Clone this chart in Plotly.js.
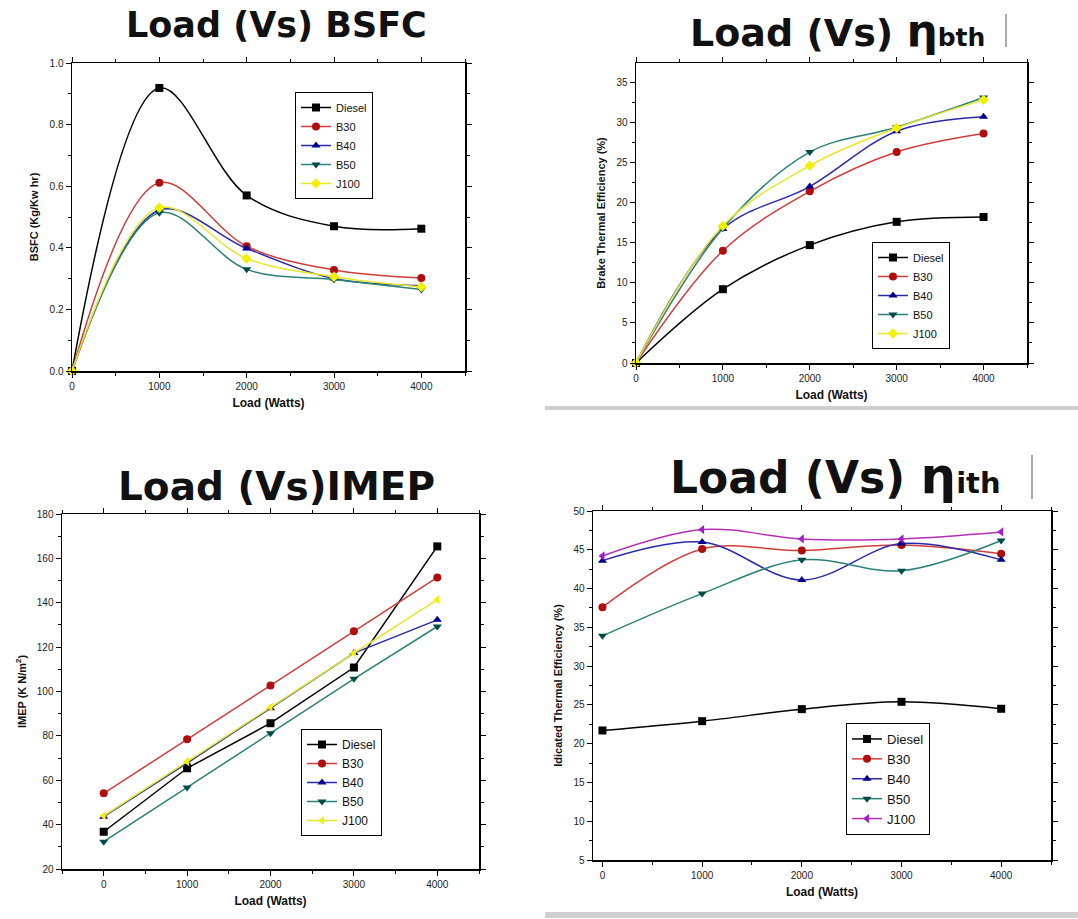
<!DOCTYPE html>
<html>
<head>
<meta charset="utf-8">
<script src="https://cdn.plot.ly/plotly-3.0.1.min.js"></script>
<style>html,body{margin:0;padding:0;background:#fff;}#chart{width:1078px;height:919px;}</style>
</head>
<body>
<div id="chart"></div>
<script>
// ---------- data ----------
const load = [0, 1000, 2000, 3000, 4000];
const seriesNames = ['Diesel', 'B30', 'B40', 'B50', 'J100'];
const xTickLabels = ['0', '1000', '2000', '3000', '4000'];

// Load vs BSFC (Kg/Kw hr)
const bsfcDiesel = [0, 0.919, 0.570, 0.470, 0.462];
const bsfcB30    = [0, 0.611, 0.405, 0.328, 0.302];
const bsfcB40    = [0, 0.522, 0.398, 0.300, 0.277];
const bsfcB50    = [0, 0.514, 0.330, 0.297, 0.265];
const bsfcJ100   = [0, 0.530, 0.365, 0.306, 0.273];

// Load vs Brake Thermal Efficiency (%)
const bteDiesel = [0, 9.2, 14.7, 17.6, 18.2];
const bteB30    = [0, 14.0, 21.4, 26.3, 28.6];
const bteB40    = [0, 16.7, 22.0, 28.9, 30.7];
const bteB50    = [0, 16.8, 26.3, 29.4, 33.1];
const bteJ100   = [0, 17.1, 24.6, 29.3, 32.8];

// Load vs IMEP (K N/m2)
const imepDiesel = [36.8, 65.4, 85.7, 110.8, 165.4];
const imepB30    = [54.1, 78.5, 102.7, 127.1, 151.4];
const imepB40    = [43.6, 67.7, 92.5, 117.3, 132.3];
const imepB50    = [32.3, 56.7, 81.2, 105.7, 129.3];
const imepJ100   = [43.9, 68.4, 92.9, 117.3, 141.4];

// Load vs Indicated Thermal Efficiency (%)
const iteDiesel = [21.7, 22.9, 24.45, 25.4, 24.5];
const iteB30    = [37.6, 45.1, 44.9, 45.6, 44.5];
const iteB40    = [43.6, 46.0, 41.1, 45.8, 43.7];
const iteB50    = [33.9, 39.35, 43.7, 42.3, 46.2];
const iteJ100   = [44.2, 47.6, 46.4, 46.4, 47.3];

// ---------- styles ----------
const W = 1078, H = 919;
const lineCols   = ['#000000', '#d23c3c', '#2a2aa8', '#2b8078', '#e6e62a'];
const markerCols = ['#000000', '#b00e0e', '#00008c', '#004a48', '#f2f200'];
const symbolsA   = ['square', 'circle', 'triangle-up', 'triangle-down', 'diamond'];
const symbolsB   = ['square', 'circle', 'triangle-up', 'triangle-down', 'triangle-left'];

function px2dom(a, b, total, flip) {
  return flip ? [1 - b / total, 1 - a / total] : [a / total, b / total];
}

const traces = [];
function addPanel(ys, idx, shape, symbols, legendName, lineOverride, markerOverride) {
  ys.forEach((y, i) => {
    traces.push({
      x: load, y: y, name: seriesNames[i], type: 'scatter', mode: 'lines+markers',
      xaxis: 'x' + (idx === 1 ? '' : idx), yaxis: 'y' + (idx === 1 ? '' : idx),
      legend: legendName,
      line: {color: (lineOverride && lineOverride[i]) || lineCols[i], width: 1.5, shape: shape, smoothing: 1},
      marker: {symbol: symbols[i], size: 8, color: (markerOverride && markerOverride[i]) || markerCols[i]},
      cliponaxis: false
    });
  });
}
addPanel([bsfcDiesel, bsfcB30, bsfcB40, bsfcB50, bsfcJ100], 1, 'spline', symbolsA, 'legend');
addPanel([bteDiesel, bteB30, bteB40, bteB50, bteJ100], 2, 'spline', symbolsA, 'legend2');
addPanel([imepDiesel, imepB30, imepB40, imepB50, imepJ100], 3, 'linear', symbolsB, 'legend3');
addPanel([iteDiesel, iteB30, iteB40, iteB50, iteJ100], 4, 'spline', symbolsB, 'legend4',
  [null, null, null, null, '#b52fb5'], [null, null, null, null, '#a020c8']);

const tickFont = {family: 'Liberation Sans, Arial, sans-serif', size: 10, color: '#222'};
const axTitleFont = {family: 'Liberation Sans, Arial, sans-serif', size: 11, color: '#111', weight: 'bold'};

function xAxis(dom, range, anchor) {
  return {
    domain: dom, range: range, anchor: anchor, tickmode: 'array', tickvals: load, ticktext: xTickLabels,
    showline: true, linecolor: '#000', linewidth: 1.5, mirror: 'allticks', ticks: 'outside',
    ticklen: 5, tickwidth: 1, tickcolor: '#000', showgrid: false, zeroline: false,
    tickfont: tickFont,
    minor: {ticks: 'outside', ticklen: 3, tickwidth: 1, tickcolor: '#000', dtick: 500, tick0: 0, showgrid: false},
    title: {text: 'Load (Watts)', font: {...axTitleFont, size: 12}, standoff: 8}
  };
}
function yAxis(dom, range, anchor, dtick, minorDtick, title, fmt) {
  return {
    domain: dom, range: range, anchor: anchor, dtick: dtick, tick0: 0, tickformat: fmt || '',
    showline: true, linecolor: '#000', linewidth: 1.5, mirror: 'allticks', ticks: 'outside',
    ticklen: 5, tickwidth: 1, tickcolor: '#000', showgrid: false, zeroline: false,
    tickfont: tickFont,
    minor: {ticks: 'outside', ticklen: 3, tickwidth: 1, tickcolor: '#000', dtick: minorDtick, showgrid: false},
    title: {text: title, font: axTitleFont, standoff: 8}
  };
}

function legendAt(px, py, size) {
  return {
    bgcolor: '#fff', bordercolor: '#000', borderwidth: 1, xanchor: 'left', yanchor: 'top',
    x: px / W, y: 1 - py / H,
    font: {family: 'Liberation Sans, Arial, sans-serif', size: size, color: '#111'},
    tracegroupgap: 0, itemwidth: 30
  };
}

function titleAnn(text, leftX, cy, size) {
  return {text: text, x: leftX / W, y: 1 - cy / H, xref: 'paper', yref: 'paper', xanchor: 'left', yanchor: 'middle',
          showarrow: false, font: {family: 'DejaVu Sans, Verdana, sans-serif', size: size, color: '#111', weight: 'bold'}};
}

const layout = {
  width: W, height: H, margin: {l: 0, r: 0, t: 0, b: 0},
  paper_bgcolor: '#fff', plot_bgcolor: '#fff', showlegend: true,
  xaxis:  xAxis(px2dom(72, 465, W), [0, 4500], 'y'),
  yaxis:  yAxis(px2dom(63, 371, H, true), [0, 1.0], 'x', 0.2, 0.1, 'BSFC (Kg/Kw hr)', '.1f'),
  xaxis2: xAxis(px2dom(636, 1027, W), [0, 4500], 'y2'),
  yaxis2: yAxis(px2dom(63, 363, H, true), [0, 37.4], 'x2', 5, 2.5, 'Brake Thermal Efficiency (%)'),
  xaxis3: xAxis(px2dom(62, 479, W), [-500, 4500], 'y3'),
  yaxis3: yAxis(px2dom(514, 869, H, true), [20, 180], 'x3', 20, 10, 'IMEP (K N/m<sup>2</sup>)'),
  xaxis4: xAxis(px2dom(593, 1051, W), [-95, 4500], 'y4'),
  yaxis4: yAxis(px2dom(511, 860, H, true), [5, 50], 'x4', 5, 2.5, 'Idicated Thermal Efficiency (%)'),
  legend:  legendAt(295, 92, 11),
  legend2: legendAt(872, 242, 11),
  legend3: legendAt(301, 729, 12),
  legend4: legendAt(846, 723, 13),
  annotations: [
    titleAnn('Load (Vs) BSFC', 124, 25, 35),
    titleAnn('Load (Vs) <span style="font-size:44px">η</span><span style="font-size:25px">bth</span>', 688, 30, 38),
    titleAnn('Load (Vs)IMEP', 116, 486, 39),
    titleAnn('Load (Vs) <span style="font-size:50px">η</span><span style="font-size:29px">ith</span>', 668, 476, 44)
  ],
  shapes: [
    {type: 'line', xref: 'paper', yref: 'paper', x0: 545 / W, x1: 1, y0: 1 - 408 / H, y1: 1 - 408 / H, line: {color: '#cfcfcf', width: 4}},
    {type: 'line', xref: 'paper', yref: 'paper', x0: 545 / W, x1: 1, y0: 1 - 915 / H, y1: 1 - 915 / H, line: {color: '#cfcfcf', width: 6}},
    {type: 'line', xref: 'paper', yref: 'paper', x0: 1006 / W, x1: 1006 / W, y0: 1 - 14 / H, y1: 1 - 47 / H, line: {color: '#555', width: 1}},
    {type: 'line', xref: 'paper', yref: 'paper', x0: 1032 / W, x1: 1032 / W, y0: 1 - 455 / H, y1: 1 - 499 / H, line: {color: '#555', width: 1}}
  ]
};

Plotly.newPlot('chart', traces, layout, {displayModeBar: false, staticPlot: true});
</script>
</body>
</html>
